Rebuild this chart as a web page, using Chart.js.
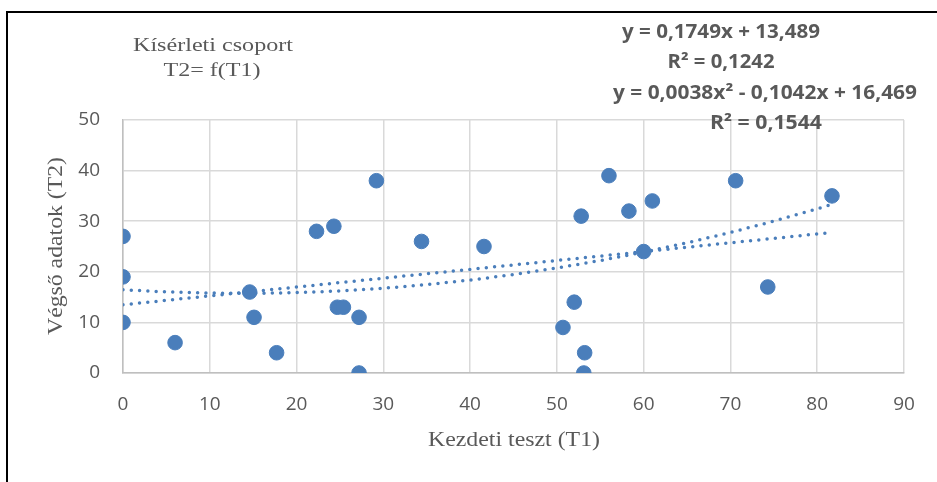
<!DOCTYPE html>
<html>
<head>
<meta charset="utf-8">
<script src="https://cdn.jsdelivr.net/npm/chart.js@4.4.1/dist/chart.umd.min.js"></script>
<style>
  html, body { margin: 0; padding: 0; background: #fff; }
  #wrap { position: relative; width: 937px; height: 482px; overflow: hidden; }
  #frame { position: absolute; left: 6px; top: 11px; width: 960px; height: 500px; border: 2px solid #000; box-sizing: border-box; }
  #c { position: absolute; left: 0; top: 0; }
</style>
</head>
<body>
<div id="wrap">
  <div id="frame"></div>
  <canvas id="c" width="937" height="482"></canvas>
</div>
<script>
// Kezdeti teszt (T1) és végső adatok (T2) pontpárjai
const t1 = [0, 0, 0, 6.0, 14.6, 15.1, 17.7, 22.3, 24.3, 24.7, 25.4, 27.2, 27.2, 29.2, 34.4, 41.6,
            50.7, 52.0, 52.8, 53.1, 53.2, 56.0, 58.3, 60.0, 61.0, 70.6, 74.3, 81.7];
const t2 = [27, 19, 10, 6, 16, 11, 4, 28, 29, 13, 13, 11, 0, 38, 26, 25,
            9, 14, 31, 0, 4, 39, 32, 24, 34, 38, 17, 35];

// trendvonalak együtthatói (konstans, x, x²)
const linCoef = [13.489, 0.1749];
const polyCoef = [16.469, -0.1042, 0.0038];

const xTicks = [0, 10, 20, 30, 40, 50, 60, 70, 80, 90];
const yTicks = [0, 10, 20, 30, 40, 50];

const eqLines = ["y = 0,1749x + 13,489", "R² = 0,1242", "y = 0,0038x² - 0,1042x + 16,469", "R² = 0,1544"];
const titleLines = ["Kísérleti csoport", "T2= f(T1)"];

const blue = "#4a7ebb";
const grey = "#595959";

function evalPoly(coef, x) {
  return coef.reduce((s, c, i) => s + c * Math.pow(x, i), 0);
}

const xMax = Math.max(...t1);
const trendX = [];
for (let x = 0; x < xMax; x += 1) trendX.push(x);
trendX.push(xMax);

const scatter = t1.map((x, i) => ({ x: x, y: t2[i] }));
const linLine = [{ x: 0, y: evalPoly(linCoef, 0) }, { x: xMax, y: evalPoly(linCoef, xMax) }];
const polyLine = trendX.map(x => ({ x: x, y: evalPoly(polyCoef, x) }));

// szöveg rajzolása, szükség esetén vízszintesen összenyomva
function drawText(ctx, text, cx, cy, font, maxW, color, rot) {
  ctx.save();
  ctx.font = font;
  ctx.fillStyle = color;
  ctx.textAlign = "center";
  ctx.textBaseline = "middle";
  ctx.translate(cx, cy);
  if (rot) ctx.rotate(rot);
  const w = ctx.measureText(text).width;
  if (maxW && w > 0) ctx.scale(maxW / w, 1);
  ctx.fillText(text, 0, 0);
  ctx.restore();
}

const labelsPlugin = {
  id: "labels",
  afterDraw(chart) {
    const ctx = chart.ctx;
    const serif = "'Liberation Serif', 'Times New Roman', serif";
    const sans = "'Open Sans', 'Noto Sans', sans-serif";

    drawText(ctx, titleLines[0], 213, 46, "19px " + serif, 160, grey);
    drawText(ctx, titleLines[1], 212, 71, "19px " + serif, 97, grey);

    drawText(ctx, eqLines[0], 721, 33, "bold 19px " + sans, 198, grey);
    drawText(ctx, eqLines[1], 721, 63, "bold 19px " + sans, 107, grey);
    drawText(ctx, eqLines[2], 765, 94, "bold 19px " + sans, 304, grey);
    drawText(ctx, eqLines[3], 766, 124, "bold 19px " + sans, 112, grey);

    drawText(ctx, "Kezdeti teszt (T1)", 514, 441, "20px " + serif, 172, grey);
    drawText(ctx, "Végső adatok (T2)", 57, 246, "20px " + serif, 178, grey, -Math.PI / 2);
  }
};

const tickFont = { family: "'Open Sans', 'Noto Sans', sans-serif", size: 19 };

new Chart(document.getElementById("c"), {
  type: "scatter",
  data: {
    datasets: [
      {
        label: "T2",
        data: scatter,
        backgroundColor: blue,
        borderColor: blue,
        borderWidth: 1,
        pointRadius: 7.3,
        order: 1
      },
      {
        label: "lineáris",
        type: "line",
        data: linLine,
        borderColor: blue,
        borderWidth: 3.5,
        borderDash: [0, 8.3],
        borderCapStyle: "round",
        pointRadius: 0,
        fill: false,
        order: 2
      },
      {
        label: "polinom",
        type: "line",
        data: polyLine,
        borderColor: blue,
        borderWidth: 3.5,
        borderDash: [0, 8.3],
        borderCapStyle: "round",
        pointRadius: 0,
        tension: 0,
        fill: false,
        order: 2
      }
    ]
  },
  options: {
    responsive: false,
    animation: false,
    layout: { padding: { top: 120, right: 33, left: 0, bottom: 0 } },
    plugins: { legend: { display: false }, tooltip: { enabled: false } },
    scales: {
      x: {
        type: "linear",
        min: xTicks[0],
        max: xTicks[xTicks.length - 1],
        afterBuildTicks: s => { s.ticks = xTicks.map(v => ({ value: v })); },
        afterFit: s => { s.height = 109; },
        grid: { color: "#d9d9d9", lineWidth: 1.5, drawTicks: false },
        border: { color: "#bfbfbf", width: 1.5 },
        ticks: { color: grey, font: tickFont, padding: 20, maxRotation: 0 }
      },
      y: {
        type: "linear",
        min: yTicks[0],
        max: yTicks[yTicks.length - 1],
        afterBuildTicks: s => { s.ticks = yTicks.map(v => ({ value: v })); },
        afterFit: s => { s.width = 123; },
        grid: { color: "#d9d9d9", lineWidth: 1.5, drawTicks: false },
        border: { color: "#bfbfbf", width: 1.5 },
        ticks: { color: grey, font: tickFont, padding: 23 }
      }
    }
  },
  plugins: [labelsPlugin]
});
</script>
</body>
</html>
